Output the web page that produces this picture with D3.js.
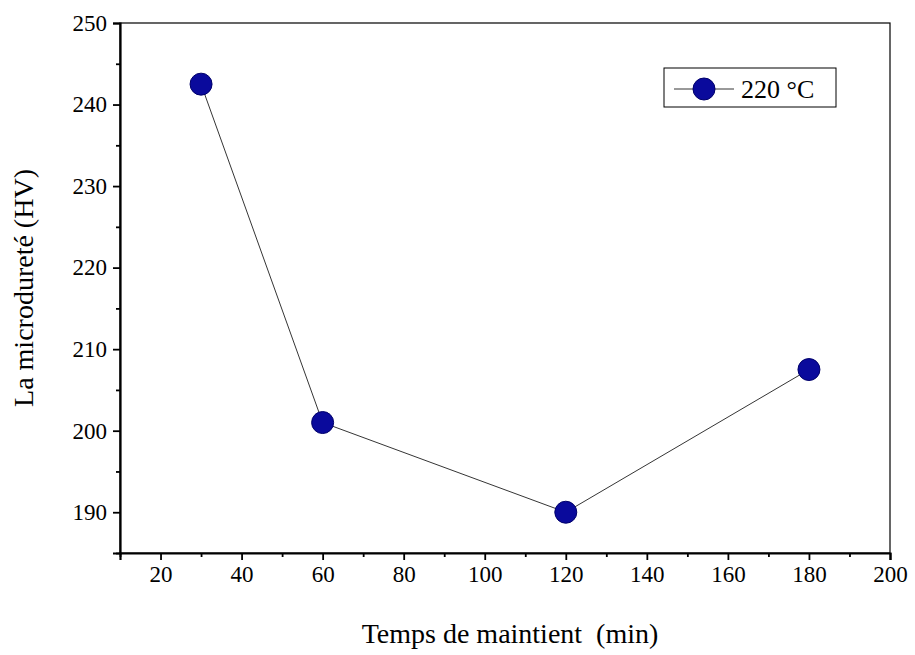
<!DOCTYPE html>
<html><head><meta charset="utf-8">
<script src="https://cdn.jsdelivr.net/npm/d3@7"></script>
<style>body{margin:0;background:#fff} svg text{font-family:"Liberation Serif","Times New Roman",serif !important}</style></head>
<body><svg id="c" width="915" height="655"></svg>
<script>
const times = [30, 60, 120, 180];
const hardness = [242.5, 201, 190, 207.5];
const xTicks = [20, 40, 60, 80, 100, 120, 140, 160, 180, 200];
const yTicks = [190, 200, 210, 220, 230, 240, 250];
const seriesName = "220 °C";

const svg = d3.select("#c");
const pLeft = 120, pRight = 890, pTop = 23, pBottom = 553;
const serif = "Liberation Serif, Times New Roman, serif";

const x = d3.scaleLinear().domain([10, 200]).range([pLeft, pRight]);
const y = d3.scaleLinear().domain([185, 250]).range([pBottom, pTop]);

// frame (top/right)
svg.append("rect").attr("x", pLeft).attr("y", pTop)
  .attr("width", pRight - pLeft).attr("height", pBottom - pTop)
  .attr("fill", "none").attr("stroke", "#000").attr("stroke-width", 1.2);

const xMinor = d3.range(10, 201, 10).filter(v => !xTicks.includes(v));
const yMinor = d3.range(185, 251, 5).filter(v => !yTicks.includes(v));

svg.append("g").attr("transform", `translate(0,${pBottom})`)
  .call(d3.axisBottom(x).tickValues(xTicks).tickSize(7).tickPadding(6));
svg.append("g").attr("transform", `translate(0,${pBottom})`)
  .call(d3.axisBottom(x).tickValues(xMinor).tickSize(4).tickFormat(""))
  .select(".domain").remove();
svg.append("g").attr("transform", `translate(${pLeft},0)`)
  .call(d3.axisLeft(y).tickValues(yTicks).tickSize(7).tickPadding(6));
svg.append("g").attr("transform", `translate(${pLeft},0)`)
  .call(d3.axisLeft(y).tickValues(yMinor).tickSize(4).tickFormat(""))
  .select(".domain").remove();

svg.selectAll("g").attr("font-family", serif);
svg.selectAll(".domain").attr("stroke-width", 2.2);
svg.selectAll(".tick line").attr("stroke-width", 1.8);
svg.selectAll(".tick text").style("font-size", "23px").attr("fill", "#000");

const pts = times.map((t, i) => [t, hardness[i]]);
svg.append("path").datum(pts)
  .attr("d", d3.line().x(d => x(d[0])).y(d => y(d[1])))
  .attr("fill", "none").attr("stroke", "#000").attr("stroke-width", 0.8);
svg.selectAll("circle.pt").data(pts).enter().append("circle")
  .attr("class", "pt").attr("cx", d => x(d[0])).attr("cy", d => y(d[1]))
  .attr("r", 11).attr("fill", "#0a0a9c").attr("stroke", "#00006a").attr("stroke-width", 1);

// legend
const lg = svg.append("g");
lg.append("rect").attr("x", 664).attr("y", 68).attr("width", 172).attr("height", 39)
  .attr("fill", "#fff").attr("stroke", "#000").attr("stroke-width", 1);
lg.append("line").attr("x1", 674).attr("x2", 734).attr("y1", 89).attr("y2", 89)
  .attr("stroke", "#000").attr("stroke-width", 0.8);
lg.append("circle").attr("cx", 704).attr("cy", 89).attr("r", 11)
  .attr("fill", "#0a0a9c").attr("stroke", "#00006a");
lg.append("text").attr("x", 741).attr("y", 98).text(seriesName).style("font-size", "26px");

svg.append("text").attr("x", 510).attr("y", 643).attr("text-anchor", "middle")
  .style("font-size", "28px").attr("xml:space", "preserve")
  .text("Temps de maintient  (min)");
svg.append("text").attr("transform", "translate(33,288) rotate(-90)").attr("text-anchor", "middle")
  .style("font-size", "28px").text("La microdureté (HV)");
</script></body></html>
